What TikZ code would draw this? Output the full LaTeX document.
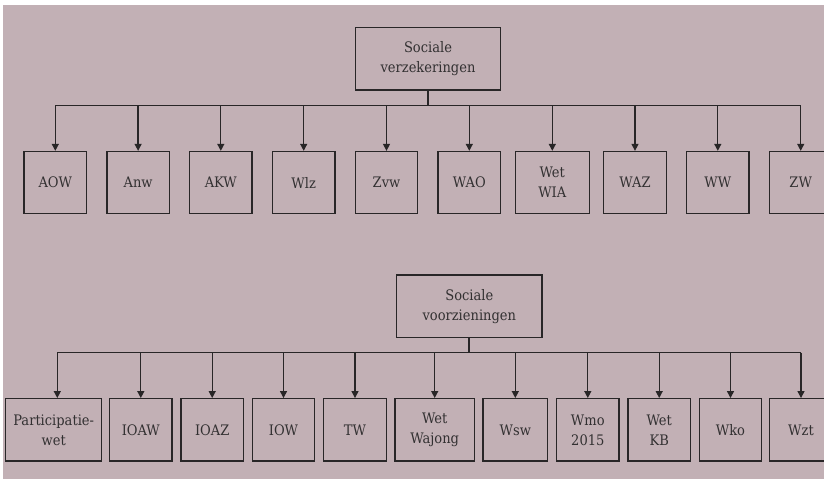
\documentclass[tikz,border=0pt]{standalone}
\usepackage{fontspec}
\setmainfont{DejaVu Serif Condensed}
\usetikzlibrary{arrows.meta}
\definecolor{bgpink}{RGB}{194,176,181}
\definecolor{linegray}{RGB}{40,38,39}
\definecolor{textgray}{RGB}{50,48,49}

\begin{document}
\begin{tikzpicture}[x=1pt,y=-1pt,
  lawbox/.style={draw=linegray,line width=1.3pt,minimum width=62.5pt,minimum height=62pt,
    inner sep=0pt,align=center,text=textgray,font=\fontsize{14.5}{20}\selectfont},
  headbox/.style={lawbox,minimum width=145.3pt,minimum height=62.3pt},
  stem/.style={draw=linegray,line width=2.2pt},
  bus/.style={draw=linegray,line width=1.3pt},
  feed/.style={draw=linegray,line width=1.3pt,-{Triangle[width=7pt,length=7pt]}}]

\fill[bgpink] (3,5) rectangle (824,479);
\useasboundingbox (0,0) rectangle (824,479);

% sociale verzekeringen
\node[headbox] (sv) at (428,58.85) {Sociale\\verzekeringen};
\coordinate (busa) at (428,105.3);

\foreach \name/\label/\x/\w in {aow/AOW/55.3/62.5, anw/Anw/138.1/62.5, akw/AKW/220.8/62.5,
  wlz/Wlz/303.7/62.5, zvw/Zvw/386.5/62.5, wao/WAO/469.3/62.5, wia/{Wet\\WIA}/552.3/74,
  waz/WAZ/635/62.5, ww/WW/717.8/62.5, zw/ZW/800.7/62.5}
  \node[lawbox,minimum width=\w pt] (\name) at (\x,182.5) {\label};

\draw[stem] (sv.south) -- (busa);
\draw[bus] (aow.north |- busa) -- (zw.north |- busa);
\foreach \name in {aow,anw,akw,wlz,zvw,wao,wia,waz,ww,zw}
  \draw[feed] (\name.north |- busa) -- (\name.north);

% sociale voorzieningen
\node[headbox] (svz) at (469.3,306.2) {Sociale\\voorzieningen};
\coordinate (busb) at (469.3,352.7);

\foreach \name/\label/\x/\w in {pw/{Participatie-\\wet}/53.7/96, ioaw/IOAW/140.8/62.5,
  ioaz/IOAZ/212.2/62.5, iow/IOW/283.5/62.5, tw/TW/355/62.5, wajong/{Wet\\Wajong}/434.7/79.3,
  wsw/Wsw/515.3/64.7, wmo/{Wmo\\2015}/587.8/62.5, wkb/{Wet\\KB}/659.2/62.5,
  wko/Wko/730.5/62.5, wzt/Wzt/801/62.5}
  \node[lawbox,minimum width=\w pt,minimum height=62.3pt] (\name) at (\x,429.85) {\label};

\draw[stem] (svz.south) -- (busb);
\draw[bus] ([xshift=3.6pt]pw.north |- busb) -- (wzt.north |- busb);
\draw[feed] ([xshift=3.6pt]pw.north |- busb) -- ([xshift=3.6pt]pw.north);
\foreach \name in {ioaw,ioaz,iow,tw,wajong,wsw,wmo,wkb,wko,wzt}
  \draw[feed] (\name.north |- busb) -- (\name.north);
\end{tikzpicture}
\end{document}
